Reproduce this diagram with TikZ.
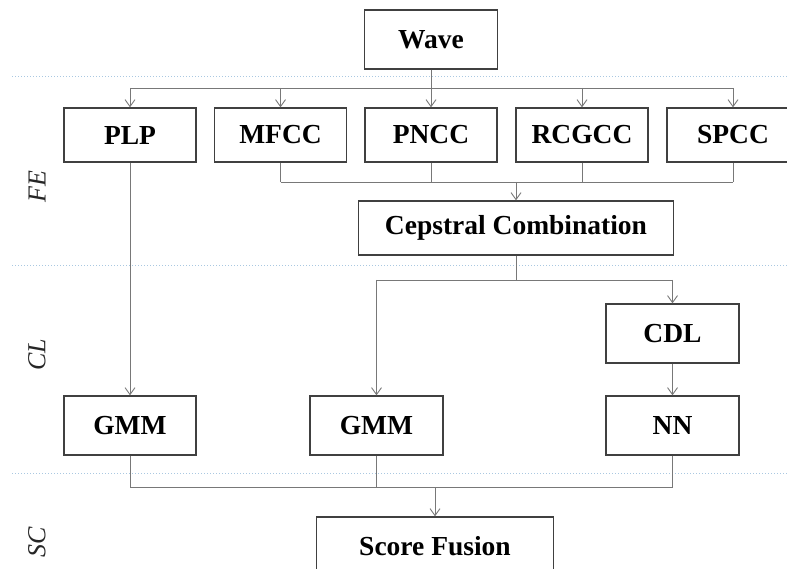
\documentclass[tikz,border=0pt]{standalone}
\usepackage{fontspec}
\setmainfont{Liberation Serif}
\usepackage{tikz}
\usetikzlibrary{calc}
\usetikzlibrary{arrows.meta}

\definecolor{sepblue}{RGB}{170,200,225}
\definecolor{linegray}{RGB}{120,120,120}

\tikzset{
	box/.style={draw=black!75, line width=1.3pt, inner sep=0pt,
		minimum width=#1, minimum height=59,
		font=\fontsize{27.5}{32}\selectfont\bfseries},
	box/.default=132,
	link/.style={draw=linegray, line width=0.9pt},
	arrow/.style={-{Straight Barb[length=7pt,width=10pt]}},
	layer/.style={rotate=90, font=\fontsize{26}{30}\selectfont\itshape, text=black!85},
	sep/.style={draw=sepblue, line width=1pt, dotted}
}

\begin{document}
\begin{tikzpicture}[x=1pt, y=-1pt]
	\useasboundingbox (0,0) rectangle (787,569);

	% Layer separators
	\draw[sep] (12,77) -- (787,77);
	\draw[sep] (12,266) -- (787,266);
	\draw[sep] (12,473) -- (787,473);

	% Layer labels
	\node[layer] (fe) at (37,187) {FE};
	\node[layer] (cl) at (37,355) {CL};
	\node[layer] (sc) at (37,542) {SC};

	% Boxes
	\node[box=133] (wave) at (431,39.5) {Wave};
	\node[box, minimum height=54] (plp)   at (130,135) {PLP};
	\node[box, minimum height=54] (mfcc)  at (280.5,135) {MFCC};
	\node[box, minimum height=54] (pncc)  at (431,135) {PNCC};
	\node[box, minimum height=54] (rcgcc) at (582,135) {RCGCC};
	\node[box, minimum height=54] (spcc)  at (733,135) {SPCC};
	\node[box=315, minimum height=54] (comb) at (516,228) {Cepstral Combination};
	\node[box=133] (cdl)   at (672.5,333.5) {CDL};
	\node[box]     (gmma)  at (130,425.5) {GMM};
	\node[box=133] (gmmb)  at (376.5,425.5) {GMM};
	\node[box=133] (nn)    at (672.5,425.5) {NN};
	\node[box=237] (fusion) at (435,546.5) {Score Fusion};

	% Branch points
	\coordinate (split) at (431,88);
	\coordinate (join)  at (516,182);
	\coordinate (fork)  at (516,280);
	\coordinate (merge) at (435,487);

	% Wave to features
	\draw[link] (wave.south) -- (split);
	\draw[link] (split -| plp.north) -- (split -| spcc.north);
	\foreach \n in {plp,mfcc,pncc,rcgcc,spcc}
		\draw[link,arrow] (split -| \n.north) -- (\n.north);

	% Features to combination
	\foreach \n in {mfcc,pncc,rcgcc,spcc}
		\draw[link] (\n.south) -- (join -| \n.south);
	\draw[link] (join -| mfcc.south) -- (join -| spcc.south);
	\draw[link,arrow] (join) -- (comb.north);

	% PLP branch
	\draw[link,arrow] (plp.south) -- (gmma.north);

	% Combination to classifiers
	\draw[link] (comb.south) -- (fork);
	\draw[link] (fork -| gmmb.north) -- (fork -| cdl.north);
	\draw[link,arrow] (fork -| gmmb.north) -- (gmmb.north);
	\draw[link,arrow] (fork -| cdl.north) -- (cdl.north);
	\draw[link,arrow] (cdl.south) -- (nn.north);

	% Classifiers to score fusion
	\foreach \n in {gmma,gmmb,nn}
		\draw[link] (\n.south) -- (merge -| \n.south);
	\draw[link] (merge -| gmma.south) -- (merge -| nn.south);
	\draw[link,arrow] (merge) -- (fusion.north);
\end{tikzpicture}
\end{document}
